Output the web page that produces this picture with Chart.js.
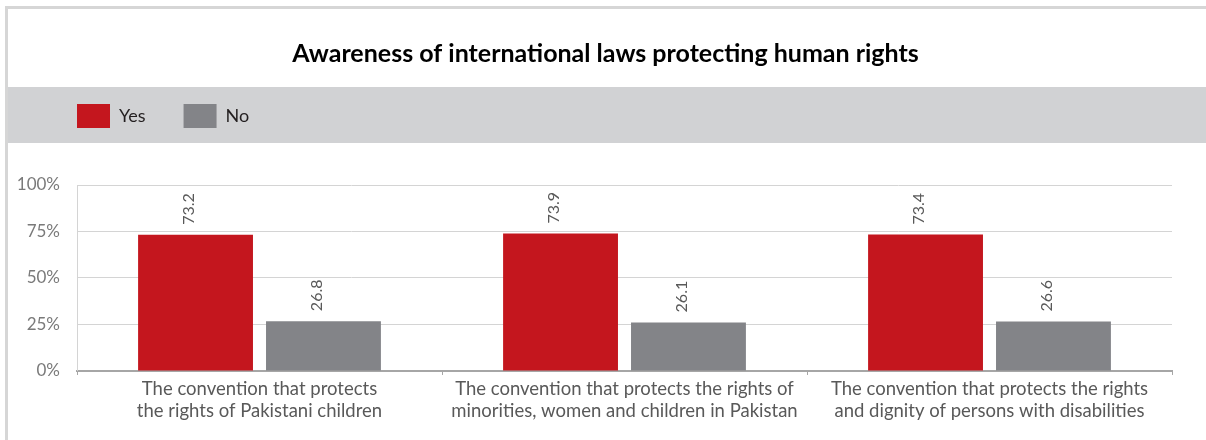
<!DOCTYPE html>
<html><head><meta charset="utf-8">
<script src="https://cdn.jsdelivr.net/npm/chart.js@4"></script>
<style>
html,body{margin:0;padding:0;background:#fff;}
#frame{position:absolute;left:5px;top:6px;width:1198px;height:431px;border-left:3px solid #d6d6d6;border-top:3px solid #d6d6d6;}
canvas{display:block;}
</style></head><body>
<div id="frame"><canvas id="c" width="1198" height="431"></canvas></div>
<script>
const titleText = 'Awareness of international laws protecting human rights';
const categories = [
  ['The convention that protects', 'the rights of Pakistani children'],
  ['The convention that protects the rights of', 'minorities, women and children in Pakistan'],
  ['The convention that protects the rights', 'and dignity of persons with disabilities']
];
const seriesNames = ['Yes', 'No'];
const yesValues = [73.2, 73.9, 73.4];
const noValues = [26.8, 26.1, 26.6];
const yTicks = [0, 25, 50, 75, 100];
const seriesColors = ['#c4161e', '#838488'];

const FONT = 'Lato';

// align the legend with the plot's left edge and centre the title on the whole frame
const layoutTweaks = {
  id: 'layoutTweaks',
  afterLayout(chart) {
    const l = chart.legend;
    l.left += chart.chartArea.left - (l.left + l.options.labels.padding);
    const t = chart.titleBlock;
    t.left = 0;
    t.right = chart.width - 3;
  }
};

const bandPlugin = {
  id: 'band',
  beforeDraw(chart) {
    const l = chart.legend;
    const ctx = chart.ctx;
    ctx.save();
    ctx.fillStyle = '#d1d2d4';
    ctx.fillRect(0, l.top + 21, chart.width, 56);
    ctx.restore();
  }
};

const valueLabels = {
  id: 'valueLabels',
  afterDatasetsDraw(chart) {
    const ctx = chart.ctx;
    ctx.save();
    ctx.font = '16px ' + FONT;
    ctx.fillStyle = '#595959';
    ctx.textAlign = 'left';
    ctx.textBaseline = 'middle';
    chart.data.datasets.forEach((ds, di) => {
      chart.getDatasetMeta(di).data.forEach((bar, i) => {
        ctx.save();
        ctx.translate(bar.x - 7, bar.y - 10);
        ctx.rotate(-Math.PI / 2);
        ctx.fillText(ds.data[i].toFixed(1), 0, 0);
        ctx.restore();
      });
    });
    ctx.restore();
  }
};

new Chart(document.getElementById('c'), {
  type: 'bar',
  data: {
    labels: categories,
    datasets: [
      { label: seriesNames[0], data: yesValues, backgroundColor: seriesColors[0] },
      { label: seriesNames[1], data: noValues, backgroundColor: seriesColors[1] }
    ]
  },
  options: {
    responsive: false,
    animation: false,
    devicePixelRatio: 1,
    layout: { padding: { left: 4, right: 34, top: 0, bottom: 15 } },
    datasets: { bar: { categoryPercentage: 0.701, barPercentage: 0.898 } },
    plugins: {
      tooltip: { enabled: false },
      title: {
        display: true, text: titleText, color: '#000',
        font: { family: FONT, size: 25, weight: 'bold', lineHeight: 1 },
        padding: { top: 32, bottom: 0 }
      },
      legend: {
        display: true, position: 'top', align: 'start',
        labels: {
          boxWidth: 33, boxHeight: 24, padding: 38, color: '#231f20',
          font: { family: FONT, size: 18 }
        }
      },
      subtitle: {
        display: true, text: '', weight: 500,
        font: { size: 10, lineHeight: 1 },
        padding: { top: 37, bottom: 0 }
      }
    },
    scales: {
      x: {
        grid: { drawOnChartArea: false, drawTicks: true, tickLength: 4, color: '#a6a6a6' },
        border: { display: true, color: '#a6a6a6', width: 2 },
        ticks: { color: '#595959', padding: 3, maxRotation: 0, autoSkip: false,
          font: { family: FONT, size: 18.5, lineHeight: 1.19 } }
      },
      y: {
        min: 0, max: 100,
        afterBuildTicks(scale) { scale.ticks = yTicks.map(v => ({ value: v })); },
        afterFit(scale) { scale.width = 65; },
        grid: { color: '#d4d4d4', drawTicks: false },
        border: { display: true, color: '#d4d4d4' },
        ticks: { color: '#7a7a7a', padding: 17, font: { family: FONT, size: 17 },
          callback: v => v + '%' }
      }
    }
  },
  plugins: [layoutTweaks, bandPlugin, valueLabels]
});
</script>
</body></html>
